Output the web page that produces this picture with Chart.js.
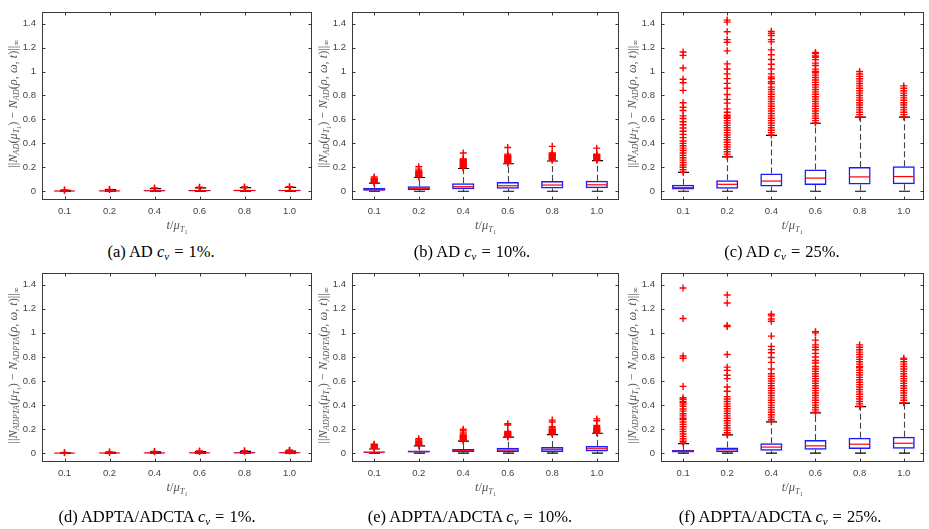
<!DOCTYPE html>
<html><head><meta charset="utf-8">
<script src="https://cdn.jsdelivr.net/npm/chart.js@4.4.0/dist/chart.umd.min.js"></script>
<style>
body{margin:0;background:#fff;}
#wrap{position:relative;width:929px;height:529px;overflow:hidden;background:#fff}
canvas{position:absolute}
.cap{position:absolute;font-family:"Liberation Serif","Times New Roman",serif;font-size:16.5px;color:#000;white-space:nowrap;transform:translate(-50%,-50%);line-height:1}
.cap sub{font-size:11px;vertical-align:-3px;line-height:0}
.cap .eq{margin:0 5px}
</style></head><body><div id="wrap"></div>
<script>
// ---------- data ----------
const categories = ['0.1','0.2','0.4','0.6','0.8','1.0'];
const yTickValues = [0,0.2,0.4,0.6,0.8,1,1.2,1.4];

// (a) AD cv = 1%
const a_q1  = [0.000,0.001,0.002,0.002,0.003,0.003];
const a_med = [0.002,0.003,0.004,0.005,0.006,0.006];
const a_q3  = [0.004,0.006,0.009,0.011,0.012,0.013];
const a_lo  = [0,0,0,0,0,0];
const a_hi  = [0.007,0.013,0.022,0.028,0.030,0.032];
const a_out = [[0.008,0.010],[0.014,0.016],[0.024,0.027],[0.030,0.034],[0.032,0.036],[0.034,0.038]];

// (b) AD cv = 10%
const b_q1  = [0.004,0.009,0.016,0.021,0.024,0.026];
const b_med = [0.013,0.025,0.038,0.046,0.052,0.054];
const b_q3  = [0.027,0.042,0.066,0.077,0.085,0.088];
const b_lo  = [0,0,0,0,0,0];
const b_hi  = [0.068,0.115,0.19,0.23,0.253,0.256];
const b_out = [
 [0.07,0.075,0.08,0.085,0.09,0.095,0.1,0.105,0.11,0.12],
 [0.12,0.125,0.13,0.135,0.14,0.145,0.15,0.155,0.16,0.165,0.17,0.185,0.205],
 [0.195,0.2,0.205,0.21,0.215,0.22,0.225,0.23,0.235,0.24,0.245,0.25,0.255,0.26,0.265,0.27,0.32],
 [0.235,0.24,0.245,0.25,0.255,0.26,0.265,0.27,0.275,0.28,0.285,0.29,0.295,0.3,0.31,0.365],
 [0.26,0.265,0.27,0.275,0.28,0.285,0.29,0.295,0.3,0.305,0.31,0.315,0.32,0.375],
 [0.26,0.265,0.27,0.275,0.28,0.285,0.29,0.295,0.3,0.305,0.31,0.36]
];

// (c) AD cv = 25%
const c_q1  = [0.014,0.021,0.04,0.053,0.056,0.058];
const c_med = [0.03,0.058,0.085,0.11,0.12,0.123];
const c_q3  = [0.054,0.093,0.149,0.181,0.203,0.208];
const c_lo  = [0,0,0,0,0,0];
const c_hi  = [0.158,0.288,0.467,0.568,0.619,0.619];
const c_out = [
 [0.16,0.18,0.2,0.22,0.24,0.26,0.28,0.3,0.32,0.34,0.36,0.38,0.4,0.42,0.448,0.475,0.501,0.528,0.555,0.581,0.608,0.63,0.675,0.702,0.739,0.843,0.906,0.936,1.03,1.135,1.163],
 [0.29,0.31,0.33,0.35,0.37,0.39,0.41,0.43,0.45,0.47,0.49,0.51,0.53,0.55,0.57,0.59,0.61,0.62,0.635,0.66,0.688,0.736,0.768,0.808,0.861,0.901,0.941,0.981,1.021,1.064,1.173,1.245,1.267,1.333,1.413,1.43],
 [0.47,0.49,0.51,0.53,0.55,0.57,0.59,0.61,0.63,0.65,0.67,0.69,0.71,0.73,0.75,0.77,0.79,0.81,0.83,0.85,0.87,0.9,0.915,0.94,0.955,0.981,1.021,1.061,1.101,1.141,1.181,1.248,1.267,1.301,1.32,1.336],
 [0.57,0.59,0.61,0.63,0.65,0.67,0.69,0.71,0.73,0.75,0.77,0.79,0.81,0.83,0.85,0.87,0.89,0.91,0.93,0.95,0.97,0.99,1.0,1.02,1.05,1.07,1.1,1.12,1.13,1.15,1.16],
 [0.62,0.64,0.66,0.68,0.7,0.72,0.74,0.76,0.78,0.8,0.82,0.84,0.86,0.88,0.9,0.92,0.94,0.96,0.98,1.0],
 [0.62,0.64,0.66,0.68,0.7,0.72,0.74,0.76,0.78,0.8,0.82,0.84,0.86,0.88]
];

// (d) ADPTA/ADCTA cv = 1%
const d_q1  = [0.000,0.000,0.001,0.001,0.001,0.002];
const d_med = [0.001,0.002,0.002,0.003,0.003,0.004];
const d_q3  = [0.002,0.003,0.005,0.006,0.007,0.008];
const d_lo  = [0,0,0,0,0,0];
const d_hi  = [0.004,0.007,0.011,0.014,0.016,0.018];
const d_out = [[0.004,0.006],[0.008,0.010],[0.012,0.014],[0.015,0.018],[0.017,0.020],[0.019,0.022,0.025]];

// (e) ADPTA/ADCTA cv = 10%
const e_q1  = [0.003,0.005,0.008,0.01,0.011,0.014];
const e_med = [0.008,0.013,0.02,0.027,0.032,0.037];
const e_q3  = [0.014,0.022,0.035,0.046,0.051,0.059];
const e_lo  = [0,0,0,0,0,0];
const e_hi  = [0.035,0.061,0.1,0.133,0.155,0.166];
const e_out = [
 [0.04,0.045,0.05,0.055,0.06,0.065,0.07,0.075],
 [0.065,0.07,0.075,0.08,0.085,0.09,0.095,0.1,0.11,0.12],
 [0.105,0.11,0.115,0.12,0.125,0.13,0.135,0.14,0.145,0.15,0.16,0.175,0.19,0.2],
 [0.135,0.14,0.145,0.15,0.155,0.16,0.165,0.17,0.175,0.18,0.235,0.245],
 [0.16,0.165,0.17,0.175,0.18,0.185,0.19,0.195,0.2,0.21,0.22,0.26,0.275],
 [0.17,0.175,0.18,0.185,0.19,0.195,0.2,0.205,0.21,0.22,0.23,0.27,0.285]
];

// (f) ADPTA/ADCTA cv = 25%
const f_q1  = [0.005,0.008,0.021,0.029,0.035,0.037];
const f_med = [0.016,0.029,0.051,0.061,0.075,0.083];
const f_q3  = [0.027,0.048,0.083,0.109,0.128,0.136];
const f_lo  = [0,0,0,0,0,0];
const f_hi  = [0.08,0.152,0.261,0.336,0.387,0.416];
const f_out = [
 [0.085,0.1,0.12,0.14,0.16,0.18,0.2,0.22,0.24,0.26,0.28,0.29,0.31,0.328,0.35,0.368,0.39,0.408,0.42,0.43,0.448,0.461,0.555,0.789,0.808,1.12,1.373],
 [0.155,0.17,0.19,0.21,0.23,0.25,0.27,0.29,0.31,0.33,0.35,0.37,0.39,0.41,0.43,0.45,0.47,0.515,0.55,0.62,0.648,0.688,0.715,0.82,1.053,1.061,1.248,1.315],
 [0.265,0.28,0.3,0.32,0.34,0.36,0.38,0.4,0.42,0.44,0.46,0.48,0.5,0.52,0.54,0.56,0.58,0.6,0.62,0.64,0.66,0.7,0.755,0.795,0.835,0.861,0.888,0.973,1.096,1.115,1.141,1.155],
 [0.34,0.36,0.38,0.4,0.42,0.44,0.46,0.48,0.5,0.52,0.54,0.56,0.58,0.6,0.62,0.64,0.66,0.68,0.7,0.72,0.75,0.77,0.8,0.83,0.86,0.88,0.9,0.94,1.0,1.01],
 [0.39,0.41,0.43,0.45,0.47,0.49,0.51,0.53,0.55,0.57,0.59,0.61,0.63,0.65,0.67,0.69,0.71,0.72,0.74,0.76,0.78,0.8,0.82,0.84,0.86,0.88,0.9],
 [0.42,0.44,0.46,0.48,0.5,0.52,0.54,0.56,0.58,0.6,0.62,0.64,0.66,0.68,0.7,0.72,0.74,0.76,0.78,0.79]
];

const captions = [
 {tag:'(a)', method:'AD', pct:'1%.'},
 {tag:'(b)', method:'AD', pct:'10%.'},
 {tag:'(c)', method:'AD', pct:'25%.'},
 {tag:'(d)', method:'ADPTA/ADCTA', pct:'1%.'},
 {tag:'(e)', method:'ADPTA/ADCTA', pct:'10%.'},
 {tag:'(f)', method:'ADPTA/ADCTA', pct:'25%.'}
];
const ySub = ['AD','AD','AD','ADPTA','ADPTA','ADPTA'];

// ---------- layout ----------
const layout = [
 {cx:0,   cy:0,   w:318, h:235, L:42,  T:4,   R:312, B:200, xmax:6.5,  capX:161, capY:252},
 {cx:316, cy:0,   w:312, h:235, L:352, T:4,   R:619, B:200, xmax:6.5,  capX:472, capY:252},
 {cx:628, cy:0,   w:301, h:235, L:661, T:4,   R:926, B:200, xmax:6.45, capX:782, capY:252},
 {cx:0,   cy:261, w:318, h:235, L:42,  T:265, R:312, B:462, xmax:6.5,  capX:157, capY:517},
 {cx:316, cy:261, w:312, h:235, L:352, T:265, R:619, B:462, xmax:6.5,  capX:470, capY:517},
 {cx:628, cy:261, w:301, h:235, L:661, T:265, R:926, B:462, xmax:6.45, capX:780, capY:517}
];

const panels = [
 {q1:a_q1,med:a_med,q3:a_q3,lo:a_lo,hi:a_hi,out:a_out},
 {q1:b_q1,med:b_med,q3:b_q3,lo:b_lo,hi:b_hi,out:b_out},
 {q1:c_q1,med:c_med,q3:c_q3,lo:c_lo,hi:c_hi,out:c_out},
 {q1:d_q1,med:d_med,q3:d_q3,lo:d_lo,hi:d_hi,out:d_out},
 {q1:e_q1,med:e_med,q3:e_q3,lo:e_lo,hi:e_hi,out:e_out},
 {q1:f_q1,med:f_med,q3:f_q3,lo:f_lo,hi:f_hi,out:f_out}
];

const AXC = '#3a3a3a';
function fontOf(s){ return (s.i?'italic ':'') + s.s + 'px "Liberation Serif","DejaVu Serif",serif'; }
function drawRich(ctx, segs, cx, cy, rot){
  ctx.save(); ctx.translate(cx,cy); if(rot) ctx.rotate(rot);
  ctx.textBaseline='alphabetic'; ctx.textAlign='left'; ctx.fillStyle='#555';
  let total=0;
  const ws = segs.map(s=>{ctx.font=fontOf(s); const w=ctx.measureText(s.t).width; total+=w; return w;});
  let x=-total/2;
  segs.forEach((s,i)=>{ctx.font=fontOf(s); ctx.fillText(s.t, x, 4+(s.dy||0)); x+=ws[i];});
  ctx.restore();
}
function yTitleSegs(sub){
  const M=12.3, S=8.3, SS=6;
  return [
    {t:'||',s:M},{t:'N',s:M,i:true},{t:sub,s:S,i:true,dy:2},
    {t:'(',s:M},{t:'μ',s:M,i:true},{t:'T',s:S,i:true,dy:2},{t:'1',s:SS,dy:3.5},
    {t:') − ',s:M},{t:'N',s:M,i:true},{t:sub,s:S,i:true,dy:2},
    {t:'(',s:M},{t:'ρ, ω, t',s:M,i:true},{t:')||',s:M},{t:'∞',s:S,dy:2}
  ];
}
const xTitleSegs = [{t:'t',s:12.5,i:true},{t:'/',s:12.5},{t:'μ',s:12.5,i:true},{t:'T',s:8.5,i:true,dy:2.5},{t:'1',s:6,dy:4.5}];

const boxDecor = {
  id:'boxDecor',
  beforeDatasetsDraw(chart, args, o){
    const {ctx, scales:{x,y}} = chart;
    const meta = chart.getDatasetMeta(o.barIndex);
    ctx.save();
    o.q1.forEach((q1,i)=>{
      const px = Math.round(x.getPixelForValue(i+1))+0.5;
      const bw = meta.data[i].width;
      ctx.strokeStyle='#444'; ctx.lineWidth=1.1; ctx.setLineDash([6,3]);
      ctx.beginPath();
      ctx.moveTo(px, y.getPixelForValue(o.q3[i])); ctx.lineTo(px, y.getPixelForValue(o.hi[i]));
      ctx.moveTo(px, y.getPixelForValue(q1)); ctx.lineTo(px, y.getPixelForValue(o.lo[i]));
      ctx.stroke();
      ctx.setLineDash([]); ctx.strokeStyle='#000'; ctx.lineWidth=1.2;
      ctx.beginPath();
      [o.hi[i], o.lo[i]].forEach(v=>{ const py=y.getPixelForValue(v); ctx.moveTo(px-bw/4,py); ctx.lineTo(px+bw/4,py); });
      ctx.stroke();
    });
    ctx.restore();
  },
  afterDatasetsDraw(chart, args, o){
    const {ctx, scales:{x,y}} = chart;
    const meta = chart.getDatasetMeta(o.barIndex);
    ctx.save();
    ctx.strokeStyle='#ff0000'; ctx.lineWidth=1.2;
    o.med.forEach((m,i)=>{
      const px = x.getPixelForValue(i+1), bw = meta.data[i].width, py = y.getPixelForValue(m);
      ctx.beginPath(); ctx.moveTo(px-bw/2+1,py); ctx.lineTo(px+bw/2-1,py); ctx.stroke();
    });
    ctx.restore();
  },
  afterDraw(chart, args, o){
    const {ctx, chartArea:a, scales:{x,y}} = chart;
    ctx.save();
    ctx.strokeStyle=AXC; ctx.lineWidth=1;
    const l=Math.round(a.left)+0.5, r=Math.round(a.right)-0.5, t=Math.round(a.top)+0.5, b=Math.round(a.bottom)-0.5;
    ctx.strokeRect(l,t,r-l,b-t);
    ctx.beginPath();
    yTickValues.forEach(v=>{ const py=Math.round(y.getPixelForValue(v))+0.5; ctx.moveTo(l,py); ctx.lineTo(l+3,py); ctx.moveTo(r,py); ctx.lineTo(r-3,py); });
    categories.forEach((c,i)=>{ const px=Math.round(x.getPixelForValue(i+1))+0.5; ctx.moveTo(px,t); ctx.lineTo(px,t+3); ctx.moveTo(px,b); ctx.lineTo(px,b-3); });
    ctx.stroke();
    ctx.restore();
    drawRich(ctx, yTitleSegs(o.ySub), a.left-29, (a.top+a.bottom)/2 - 2, -Math.PI/2);
    drawRich(ctx, xTitleSegs, (a.left+a.right)/2, a.bottom+25, 0);
  }
};

const wrap = document.getElementById('wrap');
panels.forEach((p,k)=>{
  const g = layout[k];
  const cv = document.createElement('canvas');
  cv.width=g.w; cv.height=g.h; cv.style.left=g.cx+'px'; cv.style.top=g.cy+'px';
  wrap.appendChild(cv);
  const outPts = [];
  p.out.forEach((arr,i)=>arr.forEach(v=>outPts.push({x:i+1,y:v})));
  new Chart(cv, {
    type:'bar',
    data:{datasets:[
      {type:'bar', data:p.q1.map((q,i)=>({x:i+1,y:[q,p.q3[i]]})), backgroundColor:'rgba(255,255,255,0)', borderColor:'#1a1aff', borderWidth:1.5, borderSkipped:false, barPercentage:0.5, categoryPercentage:1},
      {type:'scatter', data:outPts, pointStyle:'cross', radius:3.5, borderColor:'#ff0000', backgroundColor:'#ff0000', borderWidth:1.4}
    ]},
    options:{
      responsive:false, animation:false, devicePixelRatio:1,
      layout:{padding:{left:0, top:g.T-g.cy, right:g.cx+g.w-g.R, bottom:0}},
      plugins:{legend:{display:false}, tooltip:{enabled:false},
        boxDecor:{q1:p.q1, med:p.med, q3:p.q3, lo:p.lo, hi:p.hi, barIndex:0, ySub:ySub[k]}},
      scales:{
        x:{type:'linear', min:0.5, max:g.xmax, offset:false,
           grid:{display:false, drawTicks:false}, border:{display:false},
           afterBuildTicks:s=>{ s.ticks = categories.map((c,i)=>({value:i+1})); },
           ticks:{callback:v=>categories[Math.round(v)-1], font:{family:'"Liberation Sans", Arial, sans-serif', size:9.5}, color:'#444', padding:6, maxRotation:0, autoSkip:false},
           afterFit:s=>{ s.height = g.cy+g.h-g.B; }},
        y:{type:'linear', min:-0.073, max:1.5,
           grid:{display:false, drawTicks:false}, border:{display:false},
           afterBuildTicks:s=>{ s.ticks = yTickValues.map(v=>({value:v})); },
           ticks:{callback:v=>String(+v.toFixed(1)), font:{family:'"Liberation Sans", Arial, sans-serif', size:9.5}, color:'#444', padding:6},
           afterFit:s=>{ s.width = g.L-g.cx; }}
      }
    },
    plugins:[boxDecor]
  });
  const c = captions[k];
  const d = document.createElement('div');
  d.className='cap'; d.style.left=g.capX+'px'; d.style.top=g.capY+'px';
  d.innerHTML = c.tag+' '+c.method+' <i>c</i><sub><i>v</i></sub><span class="eq">=</span>'+c.pct;
  wrap.appendChild(d);
});
</script>
</body></html>
